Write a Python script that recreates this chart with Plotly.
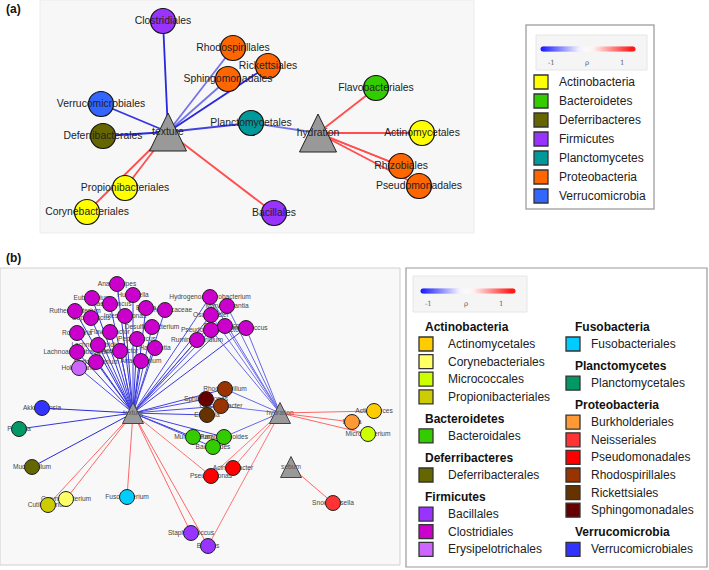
import plotly.graph_objects as go

FONT = "Liberation Sans, Arial, Helvetica, sans-serif"
W, H = 709, 570

# ======================= Panel (a) data =======================
a_phyla = ["Actinobacteria", "Bacteroidetes", "Deferribacteres", "Firmicutes",
           "Planctomycetes", "Proteobacteria", "Verrucomicrobia"]
a_phylum_colors = ["#FFFF00", "#33CC00", "#666600", "#9933FF", "#009999", "#FF6600", "#3366FF"]

a_node_names = ["Clostridiales", "Rhodospirillales", "Rickettsiales", "Sphingomonadales",
                "Verrucomicrobiales", "Deferribacterales", "Planctomycetales",
                "Propionibacteriales", "Corynebacteriales", "Bacillales",
                "Flavobacteriales", "Actinomycetales", "Rhizobiales", "Pseudomonadales"]
a_node_phylum = ["Firmicutes", "Proteobacteria", "Proteobacteria", "Proteobacteria",
                 "Verrucomicrobia", "Deferribacteres", "Planctomycetes",
                 "Actinobacteria", "Actinobacteria", "Firmicutes",
                 "Bacteroidetes", "Actinobacteria", "Proteobacteria", "Proteobacteria"]
a_node_x = [163, 233, 268, 228, 101, 103, 251, 125, 87, 274, 376, 422, 401, 419]
a_node_y = [21, 48, 66, 79, 104, 136, 123, 188, 212, 213, 88, 133, 166, 186]

a_factor_names = ["texture", "hydration"]
a_factor_x = [168, 318]
a_factor_y = [132, 133]

a_edge_from = ["texture"] * 10 + ["hydration"] * 6
a_edge_to = ["Clostridiales", "Rhodospirillales", "Sphingomonadales", "Rickettsiales",
             "Verrucomicrobiales", "Deferribacterales", "Planctomycetales",
             "Propionibacteriales", "Corynebacteriales", "Bacillales",
             "Planctomycetales", "Flavobacteriales", "Actinomycetales", "Rhizobiales",
             "Pseudomonadales", "Rhizobiales"]
a_edge_rho = [-0.85, -0.55, -0.55, -0.85, -0.8, -0.85, -0.75, 0.7, 0.7, 0.7,
              -0.55, 0.7, 0.7, 0.7, 0.7, 0.7]

# ======================= Panel (b) data =======================
b_groups = ["Actinobacteria", "Bacteroidetes", "Deferribacteres", "Firmicutes",
            "Fusobacteria", "Planctomycetes", "Proteobacteria", "Verrucomicrobia"]
b_group_orders = [
    ["Actinomycetales", "Corynebacteriales", "Micrococcales", "Propionibacteriales"],
    ["Bacteroidales"],
    ["Deferribacterales"],
    ["Bacillales", "Clostridiales", "Erysipelotrichales"],
    ["Fusobacteriales"],
    ["Planctomycetales"],
    ["Burkholderiales", "Neisseriales", "Pseudomonadales", "Rhodospirillales",
     "Rickettsiales", "Sphingomonadales"],
    ["Verrucomicrobiales"],
]
b_group_column = [0, 0, 0, 0, 1, 1, 1, 1]
b_order_colors = {
    "Actinomycetales": "#FFCC00", "Corynebacteriales": "#FFFF66", "Micrococcales": "#CCFF00",
    "Propionibacteriales": "#CCCC00", "Bacteroidales": "#33CC00", "Deferribacterales": "#666600",
    "Bacillales": "#9933FF", "Clostridiales": "#CC00CC", "Erysipelotrichales": "#CC66FF",
    "Fusobacteriales": "#00CCFF", "Planctomycetales": "#009966", "Burkholderiales": "#FF9933",
    "Neisseriales": "#FF3333", "Pseudomonadales": "#FF0000", "Rhodospirillales": "#993300",
    "Rickettsiales": "#663300", "Sphingomonadales": "#660000", "Verrucomicrobiales": "#3333FF",
}

b_node_names = ["Anaerostipes", "Hungatella", "Eubacterium", "Anaerotruncus", "Blautia",
                "Ruminococcaceae", "Ruthenibacterium", "Coprococcus", "Intestinimonas",
                "Roseburia", "Flavonifractor", "Desulfitobacterium", "Peptococcus",
                "Harryflintia", "Lachnoclostridium", "Lachnoanaerobaculum", "Acetatifactor",
                "Anaerotignum", "Acetobacterium", "Hydrogenoanaerobacterium", "Marvinbryantia",
                "Oscillibacter", "Pseudoflavonifractor", "Butyricicoccus", "Ruminococcus",
                "Ruminiclostridium", "Holdemania", "Akkermansia", "Pirellula", "Mucispirillum",
                "Cutibacterium", "Corynebacterium", "Fusobacterium", "Staphylococcus",
                "Bacillus", "Rhodospirillum", "Gluconobacter", "Sphingomonas", "Ehrlichia",
                "Muribaculum", "Parabacteroides", "Bacteroides", "Acinetobacter",
                "Pseudomonas", "Actinomyces", "Delftia", "Microbacterium", "Snodgrassella"]
b_node_order = (["Clostridiales"] * 26 +
                ["Erysipelotrichales", "Verrucomicrobiales", "Planctomycetales",
                 "Deferribacterales", "Propionibacteriales", "Corynebacteriales",
                 "Fusobacteriales", "Bacillales", "Bacillales", "Rhodospirillales",
                 "Rhodospirillales", "Sphingomonadales", "Rickettsiales", "Bacteroidales",
                 "Bacteroidales", "Bacteroidales", "Pseudomonadales", "Pseudomonadales",
                 "Actinomycetales", "Burkholderiales", "Micrococcales", "Neisseriales"])
b_node_x = [117, 133, 92, 110, 146, 165, 75, 91, 125, 77, 110, 152, 137, 155, 98, 77, 120,
            141, 96, 210, 227, 211, 211, 225, 246, 197, 79, 42, 19, 32, 48, 66, 127, 191,
            208, 225, 221, 206, 207, 193, 224, 213, 233, 211, 374, 352, 368, 333]
b_node_y = [284, 295, 298, 304, 308, 310, 311, 318, 316, 333, 332, 327, 339, 348, 345, 352,
            351, 361, 362, 297, 306, 315, 330, 326, 328, 340, 368, 408, 429, 467, 505, 499,
            497, 533, 546, 389, 406, 399, 415, 437, 437, 447, 468, 476, 411, 422, 434, 503]

b_factor_names = ["texture", "hydration", "sebum"]
b_factor_x = [133, 280, 291]
b_factor_y = [413, 413, 467]

b_texture_neg = b_node_names[:27] + ["Akkermansia", "Pirellula", "Mucispirillum",
                                      "Rhodospirillum", "Gluconobacter", "Sphingomonas",
                                      "Ehrlichia", "Muribaculum", "Parabacteroides", "Bacteroides"]
b_texture_neg_rho = [-0.8, -0.75, -0.8, -0.75, -0.8, -0.7, -0.8, -0.75, -0.8, -0.8, -0.75,
                     -0.7, -0.8, -0.75, -0.8, -0.8, -0.75, -0.8, -0.8, -0.7, -0.65, -0.75,
                     -0.7, -0.7, -0.8, -0.75, -0.7, -0.85, -0.8, -0.85, -0.75, -0.7, -0.7,
                     -0.75, -0.8, -0.75, -0.7]
b_texture_pos = ["Cutibacterium", "Corynebacterium", "Fusobacterium", "Staphylococcus",
                 "Bacillus", "Pseudomonas"]
b_texture_pos_rho = [0.6, 0.6, 0.6, 0.6, 0.6, 0.55]
b_hydration_neg = ["Hydrogenoanaerobacterium", "Marvinbryantia", "Oscillibacter",
                   "Pseudoflavonifractor", "Butyricicoccus", "Ruminococcus",
                   "Rhodospirillum", "Gluconobacter", "Parabacteroides"]
b_hydration_neg_rho = [-0.6, -0.6, -0.55, -0.6, -0.55, -0.6, -0.6, -0.55, -0.6]
b_hydration_pos = ["Actinomyces", "Delftia", "Microbacterium", "Acinetobacter",
                   "Pseudomonas", "Bacillus"]
b_hydration_pos_rho = [0.6, 0.6, 0.6, 0.55, 0.55, 0.55]
b_sebum_pos = ["Snodgrassella"]
b_sebum_pos_rho = [0.6]


# ======================= helpers =======================
def rho_color(r):
    if r < 0:
        base = (25, 25, 220)
    else:
        base = (255, 25, 25)
    t = min(1.0, abs(r) * 1.1)
    c = [round(255 + (b - 255) * t) for b in base]
    return "rgb(%d,%d,%d)" % tuple(c)


def triangle_path(cx, cy, w, h):
    xs, ys = [], []
    for x, y in zip(cx, cy):
        xs += [x - w / 2, x + w / 2, x, x - w / 2, None]
        ys += [y + h / 2, y + h / 2, y - h / 2, y + h / 2, None]
    return xs, ys


fig = go.Figure()
shapes = []
annotations = []

# ---------- backgrounds ----------
shapes.append(dict(type="rect", x0=40, y0=0, x1=474, y1=233, fillcolor="#f7f7f7",
                   line=dict(color="#ececec", width=1), layer="below"))
shapes.append(dict(type="rect", x0=0, y0=268, x1=400, y1=565, fillcolor="#f8f8f8",
                   line=dict(color="#d0d0d0", width=1), layer="below"))

# ======================= Panel (a) drawing =======================
a_pos = {n: (x, y) for n, x, y in zip(a_node_names, a_node_x, a_node_y)}
a_pos.update({n: (x, y) for n, x, y in zip(a_factor_names, a_factor_x, a_factor_y)})
for s, d, r in zip(a_edge_from, a_edge_to, a_edge_rho):
    (x0, y0), (x1, y1) = a_pos[s], a_pos[d]
    fig.add_trace(go.Scatter(x=[x0, x1], y=[y0, y1], mode="lines",
                             line=dict(color=rho_color(r), width=1.8),
                             hoverinfo="skip", showlegend=False))

a_col = dict(zip(a_phyla, a_phylum_colors))
fig.add_trace(go.Scatter(x=a_node_x, y=a_node_y, mode="markers",
                         marker=dict(size=25, color=[a_col[p] for p in a_node_phylum],
                                     line=dict(color="#111", width=1.2)),
                         hovertext=a_node_names, hoverinfo="text", showlegend=False))
tx, ty = triangle_path(a_factor_x, a_factor_y, 37, 38)
fig.add_trace(go.Scatter(x=tx, y=ty, mode="lines", fill="toself", fillcolor="#999999",
                         line=dict(color="#222", width=1), hoverinfo="skip", showlegend=False))
fig.add_trace(go.Scatter(x=a_node_x + a_factor_x, y=a_node_y + a_factor_y, mode="text",
                         text=a_node_names + a_factor_names, textposition="middle center",
                         textfont=dict(family=FONT, size=10.4, color="#222"),
                         hoverinfo="skip", showlegend=False, cliponaxis=False))

# ======================= Panel (b) drawing =======================
b_pos = {n: (x, y) for n, x, y in zip(b_node_names, b_node_x, b_node_y)}
b_pos.update({n: (x, y) for n, x, y in zip(b_factor_names, b_factor_x, b_factor_y)})
b_edges = ([("texture", d, r) for d, r in zip(b_texture_neg, b_texture_neg_rho)] +
           [("texture", d, r) for d, r in zip(b_texture_pos, b_texture_pos_rho)] +
           [("hydration", d, r) for d, r in zip(b_hydration_neg, b_hydration_neg_rho)] +
           [("hydration", d, r) for d, r in zip(b_hydration_pos, b_hydration_pos_rho)] +
           [("sebum", d, r) for d, r in zip(b_sebum_pos, b_sebum_pos_rho)])
for s, d, r in b_edges:
    (x0, y0), (x1, y1) = b_pos[s], b_pos[d]
    fig.add_trace(go.Scatter(x=[x0, x1], y=[y0, y1], mode="lines",
                             line=dict(color=rho_color(r), width=1),
                             hoverinfo="skip", showlegend=False))

fig.add_trace(go.Scatter(x=b_node_x, y=b_node_y, mode="text", text=b_node_names,
                         textposition="middle center",
                         textfont=dict(family=FONT, size=6.6, color="#444"),
                         hoverinfo="skip", showlegend=False, cliponaxis=False))
fig.add_trace(go.Scatter(x=b_node_x, y=b_node_y, mode="markers",
                         marker=dict(size=15, color=[b_order_colors[o] for o in b_node_order],
                                     line=dict(color="#222", width=1)),
                         hovertext=b_node_names, hoverinfo="text", showlegend=False))
tx, ty = triangle_path(b_factor_x, b_factor_y, 21, 21)
fig.add_trace(go.Scatter(x=tx, y=ty, mode="lines", fill="toself", fillcolor="#999999",
                         line=dict(color="#444", width=1), hoverinfo="skip", showlegend=False))
fig.add_trace(go.Scatter(x=b_factor_x, y=b_factor_y, mode="text", text=b_factor_names,
                         textposition="middle center",
                         textfont=dict(family=FONT, size=6.6, color="#555"),
                         hoverinfo="skip", showlegend=False, cliponaxis=False))

# ======================= Legends =======================
def gradient(x0, x1, y):
    n = 70
    xs = [x0 + (x1 - x0) * i / (n - 1) for i in range(n)]
    vals = [-1 + 2 * i / (n - 1) for i in range(n)]
    fig.add_trace(go.Scatter(x=xs, y=[y] * n, mode="markers",
                             marker=dict(size=5, color=vals, cmin=-1, cmax=1,
                                         colorscale=[[0, "#1a1aff"], [0.42, "#f2f2ff"],
                                                     [0.5, "#fbfbfb"], [0.58, "#fff0f0"],
                                                     [1, "#ff1a1a"]], line=dict(width=0)),
                             hoverinfo="skip", showlegend=False))


def rho_labels(xs, y):
    for t, x in zip(["-1", "ρ", "1"], xs):
        annotations.append(dict(x=x, y=y, text=t, showarrow=False, xref="x", yref="y",
                                font=dict(family="DejaVu Serif, serif", size=7, color="#666")))


# legend (a)
shapes.append(dict(type="rect", x0=526, y0=25, x1=654, y1=209, fillcolor="white",
                   line=dict(color="#aaaaaa", width=1.5), layer="below"))
shapes.append(dict(type="rect", x0=536, y0=35, x1=647, y1=70, fillcolor="#f5f5f5",
                   line=dict(color="#e6e6e6", width=1), layer="below"))
gradient(543, 633, 49)
rho_labels([551, 587, 622], 63)
a_leg_y = [82 + 19 * i for i in range(len(a_phyla))]
fig.add_trace(go.Scatter(x=[541] * len(a_phyla), y=a_leg_y, mode="markers",
                         marker=dict(symbol="square", size=14, color=a_phylum_colors,
                                     line=dict(color="#333", width=1.3)),
                         hoverinfo="skip", showlegend=False))
for name, y in zip(a_phyla, a_leg_y):
    annotations.append(dict(x=557, y=y, text=name, showarrow=False, xanchor="left",
                            xref="x", yref="y", font=dict(family=FONT, size=12, color="#222")))

# legend (b)
shapes.append(dict(type="rect", x0=406, y0=268, x1=707, y1=567, fillcolor="white",
                   line=dict(color="#999999", width=1.2), layer="below"))
shapes.append(dict(type="rect", x0=413, y0=276, x1=527, y1=312, fillcolor="#f5f5f5",
                   line=dict(color="#e6e6e6", width=1), layer="below"))
gradient(423, 513, 291)
rho_labels([428, 466, 501], 304)

col_hdr_x = [423, 573]
col_sw_x = [426, 573]
col_txt_x = [446, 589]
col_y = [327, 327]
sw_x, sw_y, sw_c = [], [], []
for g, orders, c in zip(b_groups, b_group_orders, b_group_column):
    y = col_y[c]
    if y > 327:
        y += 4.5
    annotations.append(dict(x=col_hdr_x[c], y=y, text="<b>%s</b>" % g, showarrow=False,
                            xanchor="left", xref="x", yref="y",
                            font=dict(family=FONT, size=12, color="#111")))
    y += 17
    for i, o in enumerate(orders):
        if i > 0:
            y += 17.6
        sw_x.append(col_sw_x[c])
        sw_y.append(y)
        sw_c.append(b_order_colors[o])
        annotations.append(dict(x=col_txt_x[c], y=y, text=o, showarrow=False,
                                xanchor="left", xref="x", yref="y",
                                font=dict(family=FONT, size=12, color="#222")))
    col_y[c] = y + 17.6
fig.add_trace(go.Scatter(x=sw_x, y=sw_y, mode="markers",
                         marker=dict(symbol="square", size=14, color=sw_c,
                                     line=dict(color="#333", width=1.3)),
                         hoverinfo="skip", showlegend=False))

# panel letters
annotations.append(dict(x=13, y=9, text="<b>(a)</b>", showarrow=False, xref="x", yref="y",
                        font=dict(family=FONT, size=12, color="#111")))
annotations.append(dict(x=13, y=258, text="<b>(b)</b>", showarrow=False, xref="x", yref="y",
                        font=dict(family=FONT, size=12, color="#111")))

fig.update_layout(
    width=W, height=H, margin=dict(l=0, r=0, t=0, b=0),
    paper_bgcolor="white", plot_bgcolor="white",
    xaxis=dict(range=[0, W], visible=False, fixedrange=True),
    yaxis=dict(range=[H, 0], visible=False, fixedrange=True),
    shapes=shapes, annotations=annotations, showlegend=False,
)
fig.write_html("out.html", config={"displayModeBar": False},
               post_script="document.body.style.margin='0px';document.body.style.overflow='hidden';")
